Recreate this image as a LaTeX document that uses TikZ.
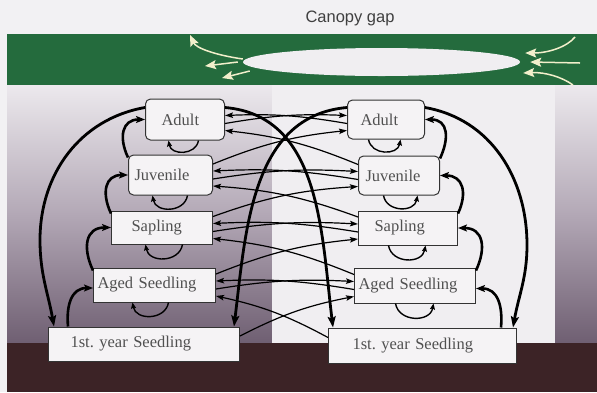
\documentclass[tikz,border=0pt]{standalone}
\usepackage{fontspec}
\setmainfont{Liberation Serif}
\setsansfont{Liberation Sans}
\usepackage{tikz}
\usetikzlibrary{arrows.meta,shapes.geometric,positioning}
\definecolor{canopy}{HTML}{246B3D}
\definecolor{soil}{HTML}{3C2326}
\definecolor{paper}{HTML}{F2F1F3}
\definecolor{gapwhite}{HTML}{F0EEF1}
\definecolor{shadetop}{HTML}{ECE9ED}
\definecolor{shademid}{HTML}{B3A8B6}
\definecolor{shadebot}{HTML}{6F5F72}
\definecolor{breeze}{HTML}{F2EFCB}
\definecolor{boxfill}{HTML}{F5F3F5}
\definecolor{inkgray}{HTML}{505050}

\begin{document}
\begin{tikzpicture}[x=1pt,y=1pt,
    stage/.style={draw=black!80, line width=1pt, fill=boxfill, text=inkgray,
        font=\fontsize{16.5}{19}\selectfont, align=left, anchor=west},
    cross/.style={line width=1.2pt, -{Stealth[length=8pt,width=5.5pt,inset=1.5pt]}},
    climb/.style={line width=2.6pt, -{Stealth[length=9pt,width=7pt,inset=2pt]}},
    seedrain/.style={line width=2.8pt, -{Stealth[length=11pt,width=8pt,inset=2pt]}},
    stay/.style={line width=1.4pt, -{Stealth[length=6pt,width=5pt,inset=1pt]}},
    wind/.style={draw=breeze, line width=1.5pt, -{Stealth[length=11pt,width=9pt,inset=2pt,fill=breeze]}}]
        \useasboundingbox (0,0) rectangle (597,-392);
        % Backdrop: shade, gap, shade, soil, canopy
        \fill[paper] (0,0) rectangle (597,-392);
        \shade[top color=shadetop, bottom color=shadebot, middle color=shademid] (7,-85) rectangle (272,-343);
        \fill[gapwhite] (272,-85) rectangle (555,-343);
        \shade[top color=shadetop, bottom color=shadebot, middle color=shademid] (555,-85) rectangle (597,-343);
        \fill[soil] (7,-343) rectangle (597,-392);
        \fill[canopy] (7,-34) rectangle (597,-85);
        \node[ellipse, fill=gapwhite, minimum width=277pt, minimum height=28pt, inner sep=0pt] (gap) at (381.5,-62) {};
        \node[font=\sffamily\fontsize{16.5}{19}\selectfont, text=black!75] (title) at (350,-18) {Canopy gap};
        % Wind round the gap
        \coordinate (w1) at (190,-35);
        \coordinate (w2) at (205,-66);
        \coordinate (w3) at (222,-78);
        \coordinate (e1) at (575,-37);
        \coordinate (e2) at (580,-63);
        \coordinate (e3) at (573,-85);
        \draw[wind] ([yshift=3pt]gap.west) .. controls (215,-55) and (196,-48) .. (w1);
        \draw[wind] ([xshift=-5pt]gap.west) -- (w2);
        \draw[wind] ([xshift=7pt,yshift=-9pt]gap.west) -- (w3);
        \draw[wind] (e1) .. controls (567,-47) and (548,-53) .. ([xshift=5pt,yshift=9pt]gap.east);
        \draw[wind] (e2) -- ([xshift=10pt]gap.east);
        \draw[wind] (e3) .. controls (562,-77) and (545,-72) .. ([xshift=3pt,yshift=-11pt]gap.east);
        % Stages under the closed canopy
        \node[stage, rounded corners=5pt, minimum height=41pt, text width=47pt, inner xsep=16pt] (ladult) at (145,-119.5) {Adult};
        \node[stage, rounded corners=5pt, minimum height=40pt, text width=72pt, inner xsep=6pt] (ljuv) at (128,-175) {Juvenile};
        \node[stage, minimum height=33pt, text width=61pt, inner xsep=20pt] (lsap) at (111,-227.5) {Sapling};
        \node[stage, minimum height=34pt, text width=114pt, inner xsep=4pt] (laged) at (93,-285) {Aged Seedling};
        \node[stage, minimum height=34pt, text width=147pt, inner xsep=22pt] (lfirst) at (48,-344) {1st.\ year Seedling};
        % Stages in the gap
        \node[stage, rounded corners=5pt, minimum height=39pt, text width=51pt, inner xsep=13pt] (radult) at (347,-119.5) {Adult};
        \node[stage, rounded corners=5pt, minimum height=39pt, text width=67pt, inner xsep=7pt] (rjuv) at (358,-175.5) {Juvenile};
        \node[stage, minimum height=34pt, text width=67pt, inner xsep=16pt] (rsap) at (358,-228) {Sapling};
        \node[stage, minimum height=35pt, text width=113pt, inner xsep=4pt] (raged) at (354,-285.5) {Aged Seedling};
        \node[stage, minimum height=35pt, text width=140pt, inner xsep=24pt] (rfirst) at (328,-345.5) {1st.\ year Seedling};
        % Growth, left side
        \draw[climb] ([yshift=-3pt]ljuv.north west) to[out=115,in=180,looseness=1.4] (ladult.west);
        \draw[climb] ([yshift=-3pt]lsap.north west) to[out=115,in=180,looseness=1.4] (ljuv.west);
        \draw[climb] ([yshift=-3pt]laged.north west) to[out=115,in=180,looseness=1.4] (lsap.west);
        \draw[climb] ([xshift=20pt]lfirst.north west) to[out=95,in=180,looseness=1.2] ([yshift=-3pt]laged.west);
        % Growth, right side
        \draw[climb] ([yshift=-3pt]rjuv.north east) to[out=65,in=0,looseness=1.4] (radult.east);
        \draw[climb] ([yshift=-3pt]rsap.north east) to[out=65,in=0,looseness=1.4] (rjuv.east);
        \draw[climb] ([yshift=-3pt]raged.north east) to[out=65,in=0,looseness=1.4] (rsap.east);
        \draw[climb] ([xshift=-16pt]rfirst.north east) to[out=85,in=0,looseness=1.2] ([yshift=-3pt]raged.east);
        % Seed rain
        \coordinate (lbend) at (40,-240);
        \coordinate (rbend) at (527,-245);
        \draw[seedrain] ([yshift=12pt]ladult.west) to[out=190,in=90] (lbend) to[out=-90,in=100] ([xshift=6pt]lfirst.north west);
        \draw[seedrain] ([yshift=12pt]radult.east) to[out=-10,in=90] (rbend) to[out=-90,in=80] ([xshift=-4pt]rfirst.north east);
        \draw[seedrain] ([yshift=12pt]ladult.east) to[out=-5,in=97] ([xshift=5pt]rfirst.north west);
        \draw[seedrain] ([yshift=12pt]radult.west) to[out=185,in=83] ([xshift=-6pt]lfirst.north east);
        % Gap opening and closing
        \draw[cross] ([yshift=-4pt]ladult.east) to[bend left=6] ([yshift=4pt]radult.west);
        \draw[cross] ([yshift=-4pt]radult.west) to[bend right=6] ([yshift=4pt]ladult.east);
        \draw[cross] ([yshift=-4pt]ljuv.east) to[bend left=6] ([yshift=4pt]rjuv.west);
        \draw[cross] ([yshift=-4pt]rjuv.west) to[bend right=6] ([yshift=4pt]ljuv.east);
        \draw[cross] ([yshift=-4pt]lsap.east) to[bend left=6] ([yshift=4pt]rsap.west);
        \draw[cross] ([yshift=-4pt]rsap.west) to[bend right=6] ([yshift=4pt]lsap.east);
        \draw[cross] ([yshift=-4pt]laged.east) to[bend left=6] ([yshift=4pt]raged.west);
        \draw[cross] ([yshift=-4pt]raged.west) to[bend right=6] ([yshift=4pt]laged.east);
        % Growth across
        \draw[cross] ([yshift=11pt]ljuv.east) to[bend left=8] ([yshift=-11pt]radult.west);
        \draw[cross] ([yshift=11pt]rjuv.west) to[bend right=8] ([yshift=-11pt]ladult.east);
        \draw[cross] ([yshift=11pt]lsap.east) to[bend left=8] ([yshift=-11pt]rjuv.west);
        \draw[cross] ([yshift=11pt]rsap.west) to[bend right=8] ([yshift=-11pt]ljuv.east);
        \draw[cross] ([yshift=11pt]laged.east) to[bend left=8] ([yshift=-11pt]rsap.west);
        \draw[cross] ([yshift=11pt]raged.west) to[bend right=8] ([yshift=-11pt]lsap.east);
        \draw[cross] ([yshift=8pt]lfirst.east) to[bend left=8] ([yshift=-11pt]raged.west);
        \draw[cross] ([yshift=8pt]rfirst.west) to[bend right=8] ([yshift=-11pt]laged.east);
        % Staying put
        \draw[stay] ([xshift=13.5pt]ladult.south) to[out=-100,in=-80,looseness=1.3] ([xshift=-16.5pt]ladult.south);
        \draw[stay] ([xshift=17pt]ljuv.south) to[out=-100,in=-80,looseness=1.3] ([xshift=-18pt]ljuv.south);
        \draw[stay] ([xshift=20.5pt]lsap.south) to[out=-100,in=-80,looseness=1.3] ([xshift=-16.5pt]lsap.south);
        \draw[stay] ([xshift=14pt]laged.south) to[out=-100,in=-80,looseness=1.3] ([xshift=-22pt]laged.south);
        \draw[stay] ([xshift=-17.5pt]radult.south) to[out=-80,in=-100,looseness=1.3] ([xshift=14.5pt]radult.south);
        \draw[stay] ([xshift=-15.5pt]rjuv.south) to[out=-80,in=-100,looseness=1.3] ([xshift=18.5pt]rjuv.south);
        \draw[stay] ([xshift=-19.5pt]rsap.south) to[out=-80,in=-100,looseness=1.3] ([xshift=17.5pt]rsap.south);
        \draw[stay] ([xshift=-19.5pt]raged.south) to[out=-80,in=-100,looseness=1.3] ([xshift=18.5pt]raged.south);
    \end{tikzpicture}
\end{document}
